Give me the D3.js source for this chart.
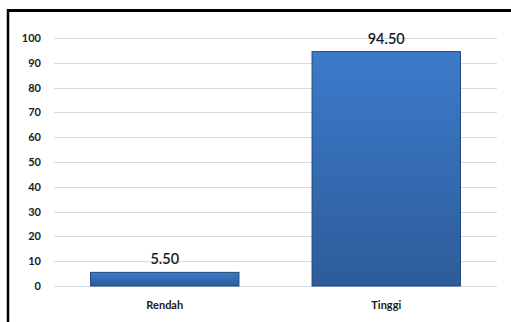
<!DOCTYPE html>
<html>
<head>
<meta charset="utf-8">
<script src="https://cdn.jsdelivr.net/npm/d3@7"></script>
<style>
  body { margin: 0; background: #fff; }
  svg text { font-family: Lato, "Open Sans", sans-serif; fill: #1a1a1a; }
</style>
</head>
<body>
<div id="chart"></div>
<script>
// chart data
const categories = ["Rendah", "Tinggi"];
const values = [5.50, 94.50];
const yTicks = [0, 10, 20, 30, 40, 50, 60, 70, 80, 90, 100];

const width = 511, height = 322;
const margin = { top: 38, right: 14, bottom: 36, left: 54 };

const svg = d3.select('#chart')
    .append('svg')
    .attr('width', width)
    .attr('height', height);

// gradient for the bars
const grad = svg.append('defs')
    .append('linearGradient')
    .attr('id', 'barGrad')
    .attr('x1', 0).attr('y1', 0)
    .attr('x2', 0).attr('y2', 1);
grad.append('stop').attr('offset', '0%').attr('stop-color', '#3c7bcb');
grad.append('stop').attr('offset', '100%').attr('stop-color', '#2d5c99');

// frame: top and left border only
svg.append('line')
    .attr('x1', 7).attr('x2', width)
    .attr('y1', 10.5).attr('y2', 10.5)
    .attr('stroke', '#000')
    .attr('stroke-width', 3);
svg.append('line')
    .attr('x1', 8).attr('x2', 8)
    .attr('y1', 9).attr('y2', height)
    .attr('stroke', '#000')
    .attr('stroke-width', 2.5);

const x = d3.scaleBand()
    .domain(categories)
    .range([margin.left, width - margin.right])
    .paddingInner(0.33)
    .paddingOuter(0.165);

const y = d3.scaleLinear()
    .domain([0, 100])
    .range([height - margin.bottom, margin.top]);

// gridlines
svg.append('g')
    .selectAll('line')
    .data(yTicks)
    .join('line')
    .attr('x1', margin.left)
    .attr('x2', width - margin.right)
    .attr('y1', d => Math.round(y(d)) + 0.5)
    .attr('y2', d => Math.round(y(d)) + 0.5)
    .attr('stroke', '#d3dbe6')
    .attr('stroke-width', 1.2);

// y axis labels
const yAxis = svg.append('g')
    .attr('transform', `translate(${margin.left - 13},0)`)
    .call(d3.axisLeft(y).tickValues(yTicks).tickSize(0).tickPadding(0));
yAxis.select('.domain').remove();
yAxis.selectAll('text')
    .style('font-size', '11px')
    .style('font-weight', 'bold')
    .attr('fill', '#1a1a1a');

// x axis labels
const xAxis = svg.append('g')
    .attr('transform', `translate(0,${height - margin.bottom})`)
    .call(d3.axisBottom(x).tickSize(0).tickPadding(15));
xAxis.select('.domain').remove();
xAxis.selectAll('text')
    .style('font-size', '11px')
    .style('font-weight', 'bold')
    .attr('fill', '#1a1a1a');

// bars
svg.append('g')
    .selectAll('rect')
    .data(values)
    .join('rect')
    .attr('x', (d, i) => x(categories[i]))
    .attr('y', d => y(d))
    .attr('width', x.bandwidth())
    .attr('height', d => y(0) - y(d))
    .attr('fill', 'url(#barGrad)')
    .attr('stroke', '#1f4777')
    .attr('stroke-width', 1);

// value labels
svg.append('g')
    .selectAll('text')
    .data(values)
    .join('text')
    .attr('x', (d, i) => x(categories[i]) + x.bandwidth() / 2)
    .attr('y', d => y(d) - 8)
    .attr('text-anchor', 'middle')
    .style('font-size', '14.5px')
    .style('font-weight', '600')
    .text(d => d.toFixed(2));
</script>
</body>
</html>
